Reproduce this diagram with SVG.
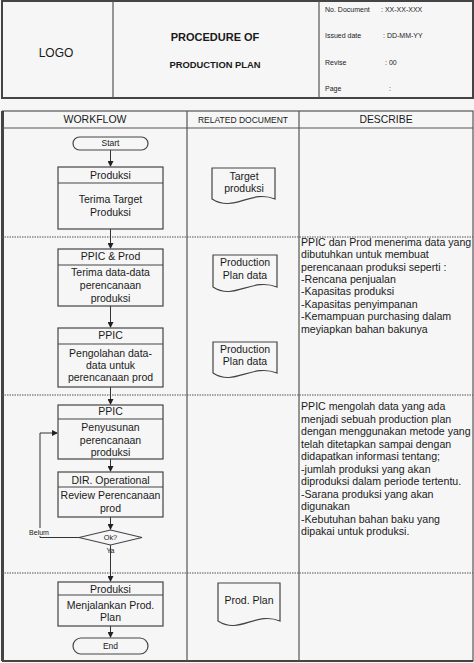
<svg xmlns="http://www.w3.org/2000/svg" width="474" height="663" viewBox="0 0 474 663">
<defs>
<marker id="arr" markerWidth="6" markerHeight="6" refX="5" refY="3" orient="auto" markerUnits="userSpaceOnUse">
<path d="M0,0 L6,3 L0,6 Z" fill="#222"/>
</marker>
<style>
text{font-family:"Liberation Sans",Arial,sans-serif;fill:#1a1a1a}
.c{text-anchor:middle}
.bx{fill:none;stroke:#444;stroke-width:1.2}
.ln{fill:none;stroke:#333;stroke-width:1}
.grid{stroke:#555;stroke-width:1.2;fill:none}
.dot{stroke:#555;stroke-width:1.2;stroke-dasharray:1.5 1}
.t10{font-size:10.5px}
.hd{font-size:7px}
.ds{font-size:10.6px}
</style>
</defs>
<rect width="474" height="663" fill="#f6f6f6"/>
<g id="header">
<rect x="2" y="1" width="471" height="97" fill="none" stroke="#444" stroke-width="2"/>
<line x1="113" y1="1" x2="113" y2="98" class="grid" stroke-width="1.5"/>
<line x1="319" y1="1" x2="319" y2="98" class="grid" stroke-width="2"/>
<text x="56" y="56.5" class="c" font-size="12">LOGO</text>
<text x="215" y="41" class="c" font-size="11" font-weight="bold">PROCEDURE OF</text>
<text x="215" y="67.5" class="c" font-size="9.4" font-weight="bold">PRODUCTION PLAN</text>
<text x="325" y="11.8" class="hd">No. Document</text>
<text x="381" y="11.8" class="hd">: XX-XX-XXX</text>
<text x="325" y="37.5" class="hd">Issued date</text>
<text x="383" y="37.5" class="hd">: DD-MM-YY</text>
<text x="325" y="64.5" class="hd">Revise</text>
<text x="385" y="64.5" class="hd">: 00</text>
<text x="325" y="91" class="hd">Page</text>
<text x="389" y="91" class="hd">:</text>
</g>
<g id="table">
<rect x="2.5" y="111" width="470.5" height="550" fill="none" stroke="#555" stroke-width="1.2"/>
<line x1="2.5" y1="111" x2="2.5" y2="661" stroke="#444" stroke-width="3"/>
<line x1="2" y1="661" x2="473" y2="661" stroke="#444" stroke-width="2"/>
<line x1="2" y1="128" x2="473" y2="128" class="grid"/>
<line x1="187" y1="111" x2="187" y2="661" class="grid"/>
<line x1="299" y1="111" x2="299" y2="661" class="grid"/>
<line x1="2" y1="237" x2="473" y2="237" class="dot"/>
<line x1="2" y1="395" x2="473" y2="395" class="dot"/>
<line x1="2" y1="573" x2="473" y2="573" class="dot"/>
<text x="95" y="123.3" class="c" font-size="10.5">WORKFLOW</text>
<text x="243" y="122.5" class="c" font-size="8.5">RELATED DOCUMENT</text>
<text x="386" y="123.3" class="c" font-size="10.4">DESCRIBE</text>
</g>
<g id="connectors">
<line x1="110.5" y1="150" x2="110.5" y2="166" class="ln" marker-end="url(#arr)"/>
<line x1="110.5" y1="229" x2="110.5" y2="248" class="ln" marker-end="url(#arr)"/>
<line x1="110.5" y1="306" x2="110.5" y2="327" class="ln" marker-end="url(#arr)"/>
<line x1="110.5" y1="387" x2="110.5" y2="404" class="ln" marker-end="url(#arr)"/>
<line x1="110.5" y1="459" x2="110.5" y2="471" class="ln" marker-end="url(#arr)"/>
<line x1="110.5" y1="517" x2="110.5" y2="529" class="ln" marker-end="url(#arr)"/>
<line x1="110.5" y1="545" x2="110.5" y2="581" class="ln" marker-end="url(#arr)"/>
<line x1="110.5" y1="626" x2="110.5" y2="637" class="ln" marker-end="url(#arr)"/>
<path d="M79,537.5 H40 V433 H57" class="ln" marker-end="url(#arr)"/>
<rect x="28" y="528" width="22" height="8" fill="#f6f6f6"/>
<text x="39" y="534.5" class="c" font-size="7">Belum</text>
<text x="110.5" y="553" class="c" font-size="7">Ya</text>
</g>
<g id="start">
<rect x="73" y="137" width="75" height="13" rx="6.5" class="bx"/>
<text x="110.5" y="146.3" class="c" font-size="8.5">Start</text>
</g>
<g id="box1">
<rect x="58" y="167" width="105" height="62" class="bx"/>
<line x1="58" y1="183" x2="163" y2="183" class="bx"/>
<text x="110.5" y="178.7" class="c t10">Produksi</text>
<text x="110.5" y="203" class="c t10">Terima Target</text>
<text x="110.5" y="216" class="c t10">Produksi</text>
</g>
<g id="box2">
<rect x="58" y="249" width="105" height="57" class="bx"/>
<line x1="58" y1="265" x2="163" y2="265" class="bx"/>
<text x="110.5" y="259.7" class="c t10">PPIC &amp; Prod</text>
<text x="110.5" y="276" class="c t10">Terima data-data</text>
<text x="110.5" y="288.7" class="c t10">perencanaan</text>
<text x="110.5" y="301.5" class="c t10">produksi</text>
</g>
<g id="box3">
<rect x="58" y="328" width="105" height="59" class="bx"/>
<line x1="58" y1="344" x2="163" y2="344" class="bx"/>
<text x="110.5" y="339.4" class="c t10">PPIC</text>
<text x="110.5" y="357" class="c t10">Pengolahan data-</text>
<text x="110.5" y="369" class="c t10">data untuk</text>
<text x="110.5" y="381.4" class="c t10">perencanaan prod</text>
</g>
<g id="box4">
<rect x="58" y="405" width="105" height="54" class="bx"/>
<line x1="58" y1="419" x2="163" y2="419" class="bx"/>
<text x="110.5" y="415" class="c t10">PPIC</text>
<text x="110.5" y="431" class="c t10">Penyusunan</text>
<text x="110.5" y="443.7" class="c t10">perencanaan</text>
<text x="110.5" y="456" class="c t10">produksi</text>
</g>
<g id="box5">
<rect x="58" y="472" width="105" height="45" class="bx"/>
<line x1="58" y1="487" x2="163" y2="487" class="bx"/>
<text x="110.5" y="483.7" class="c t10">DIR. Operational</text>
<text x="110.5" y="499.4" class="c t10">Review Perencanaan</text>
<text x="110.5" y="512" class="c t10">prod</text>
</g>
<g id="decision">
<path d="M110.5,530 L142,537.5 L110.5,545 L79,537.5 Z" class="bx"/>
<text x="110.5" y="540" class="c" font-size="7.3">Ok?</text>
</g>
<g id="box6">
<rect x="58" y="582" width="105" height="44" class="bx"/>
<line x1="58" y1="595" x2="163" y2="595" class="bx"/>
<text x="110.5" y="592.7" class="c t10">Produksi</text>
<text x="110.5" y="608.7" class="c t10">Menjalankan Prod.</text>
<text x="110.5" y="621" class="c t10">Plan</text>
</g>
<g id="end">
<rect x="73" y="638" width="75" height="16" rx="8" class="bx"/>
<text x="110.5" y="648.7" class="c" font-size="8.5">End</text>
</g>
<g id="doc1">
<path d="M212,168 H275 V199 C250.8,189 234,213 212,199 Z" class="bx"/>
<text x="244" y="179.5" class="c t10">Target</text>
<text x="244" y="191.5" class="c t10">produksi</text>
</g>
<g id="doc2">
<path d="M213,255 H277 V287 C251.4,277 234.4,301 213,287 Z" class="bx"/>
<text x="245" y="266" class="c t10">Production</text>
<text x="245" y="278.7" class="c t10">Plan data</text>
</g>
<g id="doc3">
<path d="M213,342 H277 V373 C251.4,363 234.4,387 213,373 Z" class="bx"/>
<text x="245" y="352.7" class="c t10">Production</text>
<text x="245" y="365.4" class="c t10">Plan data</text>
</g>
<g id="doc4">
<path d="M218,583 H280 V621 C255.2,611 239.7,635 218,621 Z" class="bx"/>
<text x="249" y="603.7" class="c t10">Prod. Plan</text>
</g>
<g id="desc1" class="ds">
<text x="301" y="245.8" class="ds">PPIC dan Prod menerima data yang</text>
<text x="301" y="258.2" class="ds">dibutuhkan untuk membuat</text>
<text x="301" y="270.6" class="ds">perencanaan produksi seperti :</text>
<text x="301" y="283" class="ds">-Rencana penjualan</text>
<text x="301" y="295.4" class="ds">-Kapasitas produksi</text>
<text x="301" y="307.8" class="ds">-Kapasitas penyimpanan</text>
<text x="301" y="320.2" class="ds">-Kemampuan purchasing dalam</text>
<text x="301" y="332.6" class="ds">meyiapkan bahan bakunya</text>
</g>
<g id="desc2">
<text x="301" y="410" class="ds">PPIC mengolah data yang ada</text>
<text x="301" y="422.5" class="ds">menjadi sebuah production plan</text>
<text x="301" y="435" class="ds">dengan menggunakan metode yang</text>
<text x="301" y="447.5" class="ds">telah ditetapkan sampai dengan</text>
<text x="301" y="460" class="ds">didapatkan informasi tentang;</text>
<text x="301" y="472.5" class="ds">-jumlah produksi yang akan</text>
<text x="301" y="485" class="ds">diproduksi dalam periode tertentu.</text>
<text x="301" y="497.5" class="ds">-Sarana produksi yang akan</text>
<text x="301" y="510" class="ds">digunakan</text>
<text x="301" y="522.5" class="ds">-Kebutuhan bahan baku yang</text>
<text x="301" y="535" class="ds">dipakai untuk produksi.</text>
</g>
</svg>
